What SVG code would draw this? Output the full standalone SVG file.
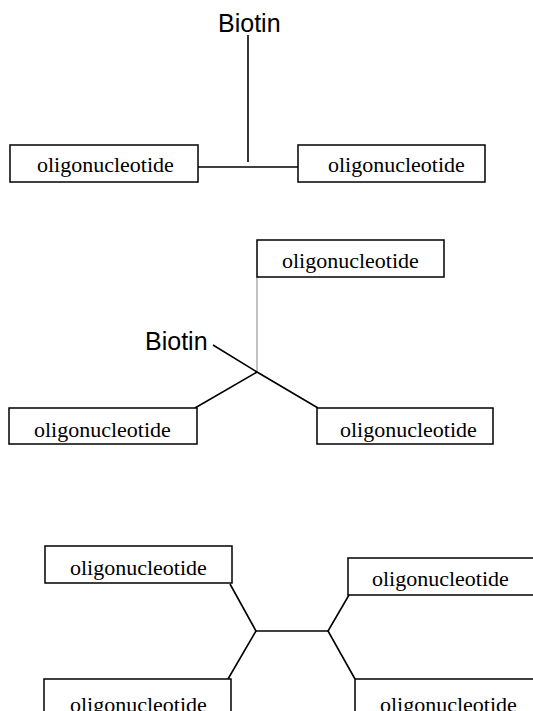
<svg xmlns="http://www.w3.org/2000/svg" width="533" height="711" viewBox="0 0 533 711">
<style>
.box{fill:#fff;stroke:#000;stroke-width:1.5}
.lbl{font-family:"Liberation Serif","Times New Roman",serif;font-size:22px;fill:#000}
.bio{font-family:"Liberation Sans",Arial,sans-serif;font-size:25px;fill:#000}
.ln{fill:none;stroke:#000;stroke-width:1.6}
.gl{fill:none;stroke:#999;stroke-width:1.2}
</style>
<rect width="533" height="711" fill="#fff"/>
<g id="connectors">
<line class="ln" x1="248" y1="35" x2="248" y2="162"/>
<line class="ln" x1="198" y1="167" x2="298" y2="167"/>
<line class="gl" x1="257" y1="277" x2="257" y2="372"/>
<polyline class="ln" points="213,345 257,372 318,408"/>
<line class="ln" x1="257" y1="372" x2="195" y2="408"/>
<polyline class="ln" points="230,584 256,631 228,679"/>
<polyline class="ln" points="349,595 328,631 355,679"/>
<line class="ln" x1="256" y1="631" x2="328" y2="631"/>
</g>
<g id="biotin1"><text class="bio" x="218" y="32">Biotin</text></g>
<g id="oligo1"><rect class="box" x="10" y="145" width="188" height="37"/><text class="lbl" x="37" y="172">oligonucleotide</text></g>
<g id="oligo2"><rect class="box" x="298" y="145" width="187" height="37"/><text class="lbl" x="328" y="172">oligonucleotide</text></g>
<g id="oligo3"><rect class="box" x="257" y="240" width="187" height="37"/><text class="lbl" x="282" y="268">oligonucleotide</text></g>
<g id="biotin2"><text class="bio" x="145" y="350">Biotin</text></g>
<g id="oligo4"><rect class="box" x="9" y="408" width="188" height="36"/><text class="lbl" x="34" y="437">oligonucleotide</text></g>
<g id="oligo5"><rect class="box" x="317" y="408" width="176" height="36"/><text class="lbl" x="340" y="437">oligonucleotide</text></g>
<g id="oligo6"><rect class="box" x="45" y="546" width="187" height="37"/><text class="lbl" x="70" y="575">oligonucleotide</text></g>
<g id="oligo7"><rect class="box" x="348" y="558" width="200" height="37"/><text class="lbl" x="372" y="586">oligonucleotide</text></g>
<g id="oligo8"><rect class="box" x="44" y="679" width="187" height="50"/><text class="lbl" x="70" y="712">oligonucleotide</text></g>
<g id="oligo9"><rect class="box" x="355" y="679" width="200" height="50"/><text class="lbl" x="380" y="712">oligonucleotide</text></g>
</svg>
